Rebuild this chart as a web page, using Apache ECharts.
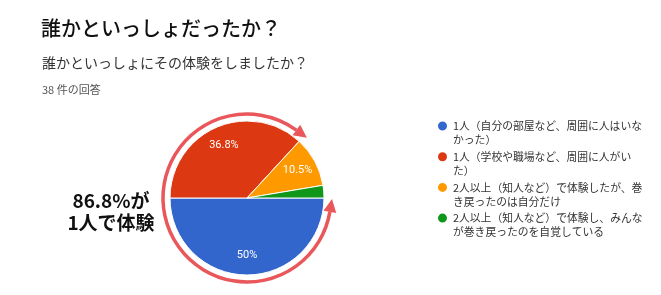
<!DOCTYPE html>
<html><head><meta charset="utf-8">
<script src="https://cdn.jsdelivr.net/npm/echarts@6/dist/echarts.min.js"></script>
<style>html,body{margin:0;padding:0;background:#fff}#c{width:661px;height:295px}</style>
</head><body><div id="c"></div>
<script>
const titleText = '誰かといっしょだったか？';
const questionText = '誰かといっしょにその体験をしましたか？';
const responsesText = '38 件の回答';
const calloutText = '86.8%が\n1人で体験';
const categories = [
  '1人（自分の部屋など、周囲に人はいな\nかった）',
  '1人（学校や職場など、周囲に人がい\nた）',
  '2人以上（知人など）で体験したが、巻\nき戻ったのは自分だけ',
  '2人以上（知人など）で体験し、みんな\nが巻き戻ったのを自覚している'
];
const counts = [19, 14, 4, 1];
const colors = ['#3366cc', '#dc3912', '#ff9900', '#109618'];

const CJK = '"Noto Sans CJK JP", sans-serif';
const LAT = 'Roboto, Arial, sans-serif';
const cx = 247, cy = 198, R = 77;
const arcR = 84, arcColor = '#e9575b';
const a0 = 9.5 * Math.PI / 180, a1 = 306 * Math.PI / 180;
const total = counts.reduce((a, b) => a + b, 0);

function arrow(theta, dirSign) {
  const bx = cx + arcR * Math.cos(theta), by = cy + arcR * Math.sin(theta);
  const tx = -Math.sin(theta) * dirSign, ty = Math.cos(theta) * dirSign;
  const nx = Math.cos(theta), ny = Math.sin(theta);
  const len = 13, hw = 6.5;
  return [[bx + tx * len, by + ty * len], [bx + nx * hw, by + ny * hw], [bx - nx * hw, by - ny * hw]];
}

const data = categories.map((n, i) => ({ name: n, value: counts[i], itemStyle: { color: colors[i] } }));

const chart = echarts.init(document.getElementById('c'), null, { renderer: 'canvas' });
chart.setOption({
  animation: false,
  title: [
    { text: titleText, left: 36, top: 13, textStyle: { fontFamily: CJK, fontSize: 20, fontWeight: 500, color: '#111' } },
    { text: questionText, left: 37, top: 51, textStyle: { fontFamily: CJK, fontSize: 14, fontWeight: 'normal', color: '#333' } },
    { text: responsesText, left: 37, top: 79, textStyle: { fontFamily: CJK, fontSize: 11, fontWeight: 'normal', color: '#555' } }
  ],
  legend: {
    orient: 'vertical', left: 436, top: 105, padding: 0,
    icon: 'circle', itemWidth: 11, itemHeight: 11, itemGap: -11.3,
    data: categories,
    formatter: n => '\n' + n,
    textStyle: { fontFamily: CJK, fontSize: 10.8, color: '#333', lineHeight: 14 }
  },
  series: [
    {
      type: 'pie', center: [cx, cy], radius: [0, R], startAngle: 0, clockwise: true,
      silent: true, data: data, label: { show: false }, labelLine: { show: false },
      itemStyle: { borderColor: '#fff', borderWidth: 1 }
    },
    {
      type: 'pie', center: [cx, cy], radius: [32, R], startAngle: 0, clockwise: true,
      silent: true,
      data: data.map(d => ({ name: d.name, value: d.value, itemStyle: { color: 'rgba(0,0,0,0)' } })),
      label: {
        show: true, position: 'inside', color: '#fff', fontFamily: LAT, fontSize: 11,
        formatter: p => {
          const pct = Math.round(p.value / total * 1000) / 10;
          return pct < 5 ? '' : pct + '%';
        }
      },
      labelLine: { show: false }
    }
  ],
  graphic: [
    { type: 'arc', shape: { cx: cx, cy: cy, r: arcR, startAngle: a0, endAngle: a1, clockwise: true },
      style: { stroke: arcColor, lineWidth: 3.5, fill: null } },
    { type: 'polygon', shape: { points: arrow(a0, -1) }, style: { fill: arcColor } },
    { type: 'polygon', shape: { points: arrow(a1, 1) }, style: { fill: arcColor } },
    { type: 'text', x: 111, y: 212, style: { text: calloutText, fontFamily: CJK, fontSize: 19, fontWeight: 'bold', fill: '#111', align: 'center', verticalAlign: 'middle', lineHeight: 22 } }
  ]
});
</script></body></html>
